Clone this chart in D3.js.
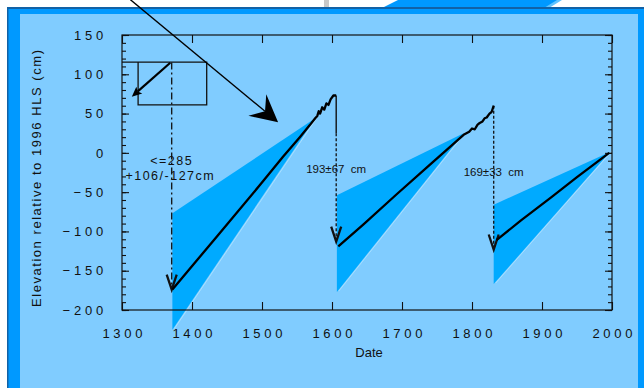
<!DOCTYPE html>
<html>
<head>
<meta charset="utf-8">
<script src="https://cdn.jsdelivr.net/npm/d3@7"></script>
<style>
  body { margin: 0; background: #fff; }
  svg { display: block; font-family: "Liberation Sans", Arial, sans-serif; }
</style>
</head>
<body>
<svg id="chart" width="644" height="388"></svg>
<script>
// tick labels
var xTicks = [1300, 1400, 1500, 1600, 1700, 1800, 1900, 2000];
var yTicks = [-200, -150, -100, -50, 0, 50, 100, 150];

// interseismic uplift, one series per cycle (year, elevation cm)
var cycle1Year = [1372, 1435, 1497, 1530, 1554, 1568, 1576, 1579, 1581, 1583, 1586, 1589, 1592, 1595, 1598, 1602, 1606];
var cycle1Elev = [-174, -107, -41, -5, 20, 35, 44, 47, 53, 50, 58, 55, 63, 61, 68, 73, 73];
var cycle2Year = [1609, 1645, 1692, 1740, 1788, 1796, 1800, 1804, 1808, 1811, 1815, 1818, 1821, 1825, 1828, 1831];
var cycle2Elev = [-119, -91, -53, -15, 23, 27, 31, 30, 36, 38, 40, 44, 45, 50, 52, 60];
var cycle3Year = [1835, 1870, 1914, 1950, 1996];
var cycle3Elev = [-111, -86, -56, -31, 0];

// uncertainty wedges
var wedgeStart = [1372, 1607, 1831];
var wedgeUpper = [-77, -54, -66];
var wedgeLower = [-225, -177, -167];
var wedgeApexYear = [1576, 1788, 1997];
var wedgeApexElev = [44, 25, 1];

// coseismic drops
var dropYear = [1371, 1606, 1831];
var dropTop = [115, 25, 60];
var dropBottom = [-174, -113, -123];
var solidDropYear = [1606];
var solidDropTop = [73];
var solidDropBottom = [25];

// annotations
var noteText = ["<=285", "+106/-127cm", "193\u00b167  cm", "169\u00b133  cm"];
var noteYear = [1371, 1369, 1606, 1831];
var noteElev = [-15.5, -34.5, -25.6, -29.5];
var insetYear = [1323, 1421];
var insetElev = [61, 115.6];
var smallArrowYear = [1369, 1314];
var smallArrowElev = [114.7, 71.5];
var bigArrowYear = [1312, 1523];
var bigArrowElev = [195, 39];

var svg = d3.select("#chart");

// page frame
svg.append("rect").attr("width", 644).attr("height", 388).attr("fill", "#fff");
svg.append("rect").attr("x", 324).attr("y", 0).attr("width", 5).attr("height", 8).attr("fill", "#c8c8c8");
svg.append("polygon").attr("points", "382,8 398,0 560,0 546,8").attr("fill", "#0099ff");
svg.append("polygon").attr("points", "544,8 557,0 562,0 549,8").attr("fill", "#60c4ff");
svg.append("rect").attr("x", 7).attr("y", 7).attr("width", 637).attr("height", 381).attr("fill", "#1262a6");
svg.append("rect").attr("x", 8.5).attr("y", 9).attr("width", 636).attr("height", 379).attr("fill", "#0099ff");
svg.append("rect").attr("x", 20).attr("y", 14).attr("width", 618).attr("height", 374).attr("fill", "#80ccff");

var x = d3.scaleLinear().domain([1300, 2000]).range([122, 612]);
var y = d3.scaleLinear().domain([-200, 150]).range([310, 35]);

var line = d3.line()
    .x(function(d) { return x(d[0]); })
    .y(function(d) { return y(d[1]); });

// wedges
var g = svg.append("g");
wedgeStart.forEach(function(s, i) {
    var pts = [[s, wedgeUpper[i]], [wedgeApexYear[i], wedgeApexElev[i]], [s, wedgeLower[i]]];
    g.append("path")
        .attr("d", line(pts) + "Z")
        .attr("fill", "#00aaff");
    g.append("path")
        .attr("d", line([[s, wedgeLower[i]], [wedgeApexYear[i], wedgeApexElev[i]]]))
        .attr("transform", "translate(2,-1)")
        .attr("fill", "none")
        .attr("stroke", "#a8e0ff")
        .attr("stroke-width", 1);
});

// axes
function styleAxis(sel) {
    sel.select(".domain").remove();
    sel.selectAll("line").attr("stroke", "#111").attr("stroke-width", 1.1);
}

svg.append("g")
    .attr("transform", "translate(0," + y(-200) + ")")
    .call(d3.axisBottom(x).tickValues(xTicks).tickSizeInner(-8).tickSizeOuter(0).tickPadding(19).tickFormat(d3.format("d")))
    .call(styleAxis)
    .selectAll("text")
    .attr("dx", "1.8")
    .style("font-size", "13px")
    .style("letter-spacing", "3.7px")
    .attr("fill", "#111");

svg.append("g")
    .attr("transform", "translate(0," + y(150) + ")")
    .call(d3.axisTop(x).tickValues(xTicks).tickSizeInner(-8).tickSizeOuter(0).tickFormat(""))
    .call(styleAxis);

var minor = d3.range(-200, 151, 10);
[[d3.axisLeft, x(1300)], [d3.axisRight, x(2000)]].forEach(function(a) {
    svg.append("g")
        .attr("transform", "translate(" + a[1] + ",0)")
        .call(a[0](y).tickValues(minor).tickSizeInner(-4).tickSizeOuter(0).tickFormat(""))
        .call(styleAxis);
});

svg.append("g")
    .attr("transform", "translate(" + x(1300) + ",0)")
    .call(d3.axisLeft(y).tickValues(yTicks).tickSizeInner(-7).tickSizeOuter(0).tickPadding(15))
    .call(styleAxis)
    .selectAll("text")
    .style("font-size", "13px")
    .style("letter-spacing", "3.8px")
    .attr("fill", "#111");

svg.append("g")
    .attr("transform", "translate(" + x(2000) + ",0)")
    .call(d3.axisRight(y).tickValues(yTicks).tickSizeInner(-7).tickSizeOuter(0).tickFormat(""))
    .call(styleAxis);

svg.append("rect")
    .attr("x", x(1300)).attr("y", y(150))
    .attr("width", x(2000) - x(1300)).attr("height", y(-200) - y(150))
    .attr("fill", "none").attr("stroke", "#111").attr("stroke-width", 1.2);

// axis titles
svg.append("text")
    .attr("x", (x(1300) + x(2000)) / 2 + 2).attr("y", 357)
    .attr("text-anchor", "middle")
    .style("font-size", "13px")
    .attr("fill", "#111")
    .text("Date");

svg.append("text")
    .attr("transform", "translate(40.5," + 178.5 + ") rotate(-90)")
    .attr("text-anchor", "middle")
    .attr("textLength", 257)
    .attr("lengthAdjust", "spacing")
    .style("font-size", "13px")
    .attr("fill", "#111")
    .text("Elevation relative to 1996 HLS (cm)");

// inset box
var ins = svg.append("g").attr("fill", "none").attr("stroke", "#111").attr("stroke-width", 1.3);
ins.append("path").attr("d", line([[1300, insetElev[1]], [insetYear[1], insetElev[1]], [insetYear[1], insetElev[0]], [insetYear[0], insetElev[0]], [insetYear[0], insetElev[1]]]));

// coseismic drops
dropYear.forEach(function(yr, i) {
    svg.append("path")
        .attr("d", line([[yr, dropTop[i]], [yr, dropBottom[i]]]))
        .attr("fill", "none")
        .attr("stroke", "#111")
        .attr("stroke-width", 1.3)
        .attr("stroke-dasharray", i === 0 ? "7,3,2,3" : "3,2");
    var px = x(yr), py = y(dropBottom[i]);
    svg.append("path")
        .attr("d", "M" + (px - 5) + "," + (py - 15) + "L" + px + "," + py + "L" + (px + 5) + "," + (py - 15))
        .attr("fill", "none")
        .attr("stroke", "#111")
        .attr("stroke-width", 2.3);
});
solidDropYear.forEach(function(yr, i) {
    svg.append("path")
        .attr("d", line([[yr, solidDropTop[i]], [yr, solidDropBottom[i]]]))
        .attr("stroke", "#111")
        .attr("stroke-width", 1.4);
});

// cycles
[[cycle1Year, cycle1Elev], [cycle2Year, cycle2Elev], [cycle3Year, cycle3Elev]].forEach(function(c) {
    svg.append("path")
        .attr("d", line(d3.zip(c[0], c[1])))
        .attr("fill", "none")
        .attr("stroke", "#000")
        .attr("stroke-width", 2.3)
        .attr("stroke-linejoin", "round");
});

// arrows
function arrow(years, elevs, width, len, half, notch) {
    var p0 = [x(years[0]), y(elevs[0])], p1 = [x(years[1]), y(elevs[1])];
    var dx = p1[0] - p0[0], dy = p1[1] - p0[1], L = Math.sqrt(dx * dx + dy * dy);
    var u = [dx / L, dy / L], n = [-u[1], u[0]];
    function at(a, b) { return [p1[0] + a * u[0] + b * n[0], p1[1] + a * u[1] + b * n[1]]; }
    var base = at(-notch, 0);
    svg.append("line")
        .attr("x1", p0[0]).attr("y1", p0[1]).attr("x2", base[0]).attr("y2", base[1])
        .attr("stroke", "#000").attr("stroke-width", width);
    svg.append("path")
        .attr("d", "M" + p1 + "L" + at(-len, half) + "L" + base + "L" + at(-len, -half) + "Z")
        .attr("fill", "#000");
}
arrow(smallArrowYear, smallArrowElev, 2.2, 10, 4.5, 8);
arrow(bigArrowYear, bigArrowElev, 1.3, 27, 14, 17);

// labels
noteText.forEach(function(t, i) {
    svg.append("text")
        .attr("x", x(noteYear[i])).attr("y", y(noteElev[i]))
        .attr("text-anchor", "middle")
        .style("white-space", "pre")
        .style("font-size", i < 2 ? "12.5px" : "11.5px")
        .style("letter-spacing", i < 2 ? "1.5px" : "0px")
        .attr("fill", "#111")
        .text(t);
});
</script>
</body>
</html>
